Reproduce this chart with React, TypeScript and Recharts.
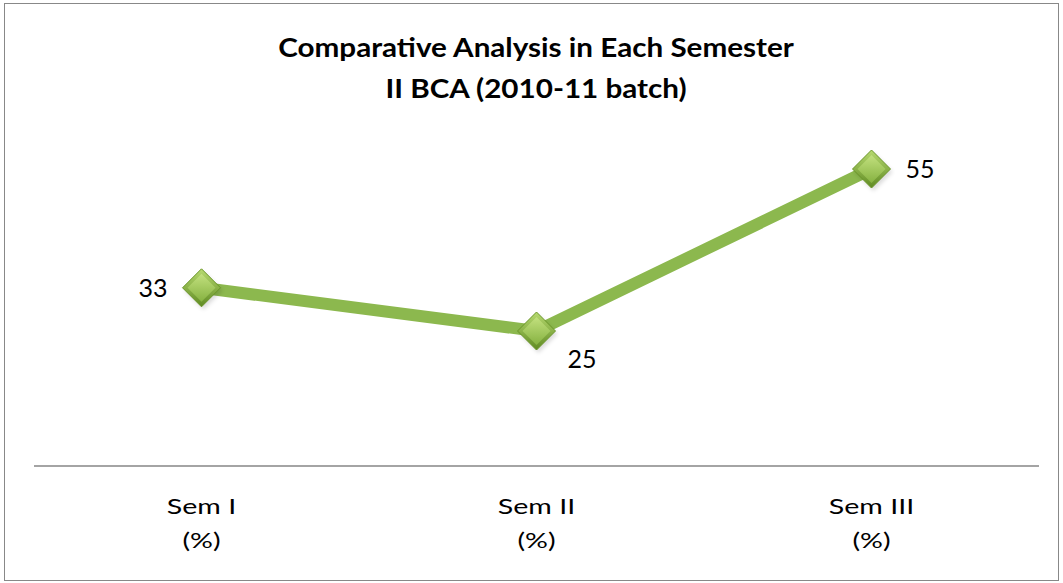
import React from 'react';
import { LineChart, Line, XAxis, YAxis, LabelList } from 'recharts';

const categories = ['Sem I', 'Sem II', 'Sem III'];
const percentValues = [33, 25, 55];
const tickSubLabel = '(%)';
const titleLines = ['Comparative Analysis in Each Semester', 'II BCA (2010-11 batch)'];

const data = categories.map((c, i) => ({ name: c, value: percentValues[i] }));

const FONT = 'Lato, "Open Sans", sans-serif';

const Diamond = (props: any) => {
  const { cx, cy } = props;
  if (cx == null || cy == null) return null;
  const r = 19;
  const pts = `${cx},${cy - r} ${cx + r},${cy} ${cx},${cy + r} ${cx - r},${cy}`;
  return (
    <g>
      <polygon points={`${cx + 2},${cy - r + 3} ${cx + r + 2},${cy + 3} ${cx + 2},${cy + r + 3} ${cx - r + 2},${cy + 3}`} fill="#000" opacity={0.14} filter="url(#blur)" />
      <polygon points={pts} fill="url(#diamondGrad)" stroke="#6a9628" strokeWidth={1} />
      <polygon points={`${cx},${cy - r + 5} ${cx + r - 5},${cy} ${cx},${cy + r - 5} ${cx - r + 5},${cy}`} fill="url(#diamondInner)" />
    </g>
  );
};

const Tick = (props: any) => {
  const { x, y, payload } = props;
  return (
    <g transform={`translate(${x},${y}) scale(1.3,1)`}>
      <text x={0} textAnchor="middle" fontFamily={FONT} fontSize={22} fill="#000">
        <tspan x={0} y={40}>{payload.value}</tspan>
        <tspan x={0} y={74}>{tickSubLabel}</tspan>
      </text>
    </g>
  );
};

const ValueLabel = (props: any) => {
  const { x, y, value, index } = props;
  let tx = x, ty = y, anchor: 'start' | 'end' = 'start';
  if (index === 0) { tx = x - 34; ty = y + 9; anchor = 'end'; }
  else if (index === 1) { tx = x + 31; ty = y + 37; anchor = 'start'; }
  else { tx = x + 34; ty = y + 9; anchor = 'start'; }
  return (
    <text x={tx} y={ty} textAnchor={anchor} fontFamily={FONT} fontSize={25} fill="#000">{value}</text>
  );
};

export default function App() {
  return (
    <div style={{ position: 'absolute', left: 0, top: 0, width: 1063, height: 583, background: '#fff' }}>
      <div style={{ position: 'absolute', left: 4, top: 3, width: 1055, height: 578, border: '1.5px solid #888', boxSizing: 'border-box' }} />
      <div style={{ position: 'absolute', left: 0, top: 0 }}>
        <LineChart width={1063} height={583} data={data} margin={{ top: 142, right: 24, bottom: 0, left: 34 }}>
          <defs>
            <linearGradient id="diamondGrad" x1="0" y1="0" x2="0" y2="1">
              <stop offset="0%" stopColor="#b7da70" />
              <stop offset="100%" stopColor="#5f8a22" />
            </linearGradient>
            <linearGradient id="diamondInner" x1="0" y1="0" x2="0" y2="1">
              <stop offset="0%" stopColor="#c2e07e" />
              <stop offset="100%" stopColor="#86b241" />
            </linearGradient>
            <filter id="blur" x="-50%" y="-50%" width="200%" height="200%">
              <feGaussianBlur stdDeviation="2" />
            </filter>
          </defs>
          <g transform="translate(536,0) scale(1.14,1)">
            <text x={0} y={57} textAnchor="middle" fontFamily={FONT} fontWeight="bold" fontSize={26} fill="#000">{titleLines[0]}</text>
            <text x={0} y={98} textAnchor="middle" fontFamily={FONT} fontWeight="bold" fontSize={26} fill="#000">{titleLines[1]}</text>
          </g>
          <XAxis dataKey="name" height={117} padding={{ left: 167.5, right: 167.5 }} axisLine={{ stroke: '#868686', strokeWidth: 1.5 }} tickLine={false} tick={<Tick />} interval={0} />
          <YAxis hide domain={[0, 60]} />
          <Line type="linear" dataKey="value" stroke="#8cb84e" strokeWidth={12} dot={<Diamond />} activeDot={false} isAnimationActive={false}>
            <LabelList dataKey="value" content={<ValueLabel />} />
          </Line>
        </LineChart>
      </div>
    </div>
  );
}
